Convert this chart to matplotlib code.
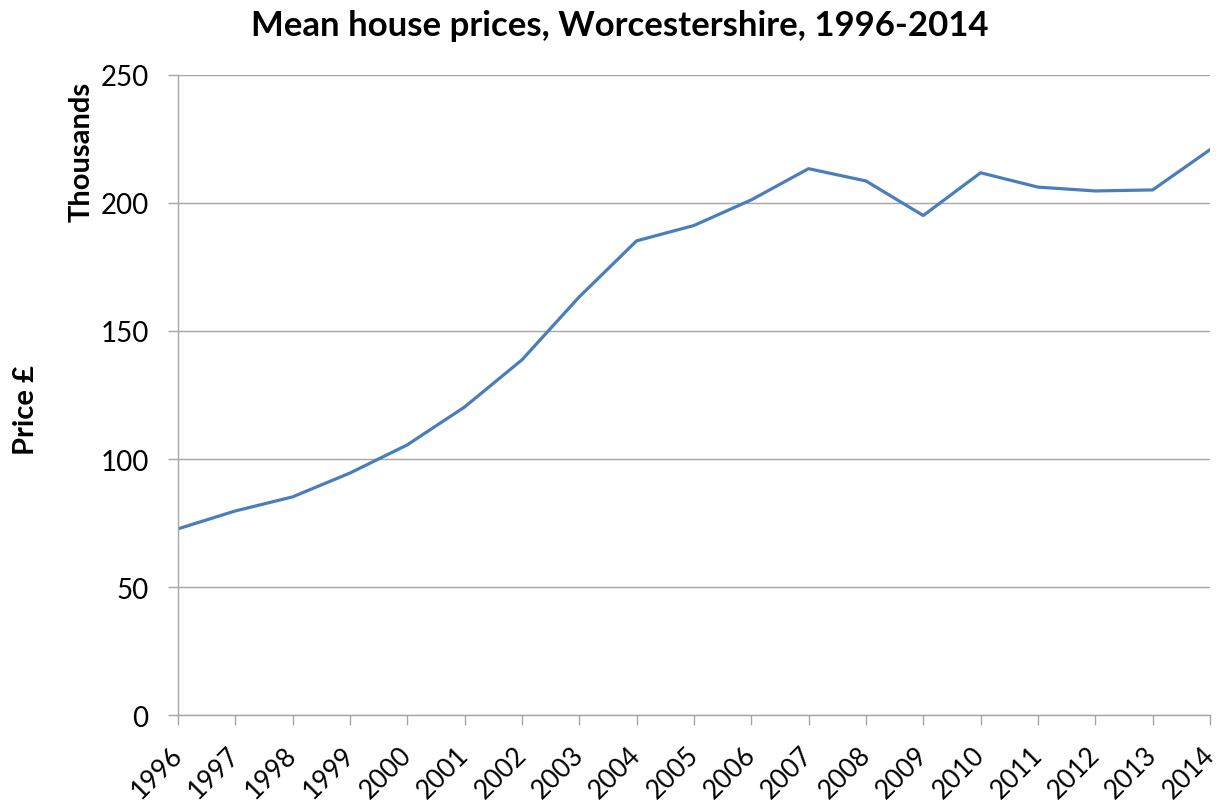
import matplotlib.pyplot as plt
from matplotlib.transforms import ScaledTranslation

years = list(range(1996, 2015))
prices = [72.7, 79.7, 85.2, 94.5, 105.5, 120.3, 138.7, 163.3, 185.2, 191.2,
          201.2, 213.4, 208.6, 195.1, 211.8, 206.2, 204.7, 205.1, 220.8]
yticks = [0, 50, 100, 150, 200, 250]

plt.rcParams['font.family'] = ['Lato', 'DejaVu Sans']

fig = plt.figure(figsize=(12.18, 8.03), dpi=100)
ax = fig.add_axes([0.146, 0.1083, 0.8474, 0.7971])

grid_col = '#A6A6A6'
ax.plot(years, prices, color='#4A7EBB', linewidth=2.3, solid_joinstyle='round')

ax.set_xlim(years[0], years[-1])
ax.set_ylim(0, 250)
ax.set_yticks(yticks)
ax.set_xticks(years)
ax.set_xticklabels([str(y) for y in years], rotation=45, ha='right',
                   rotation_mode='anchor')
ax.yaxis.grid(True, color=grid_col, linewidth=1)
ax.set_axisbelow(True)

for side in ['top', 'right']:
    ax.spines[side].set_visible(False)
for side in ['left', 'bottom']:
    ax.spines[side].set_color(grid_col)
    ax.spines[side].set_linewidth(1)

ax.tick_params(axis='both', colors=grid_col, length=7, width=1,
               labelcolor='black')
ax.tick_params(axis='y', pad=14, labelsize=20)
ax.tick_params(axis='x', pad=12, labelsize=19)

# nudge the rotated year labels a little to the left
shift = ScaledTranslation(-6 / 72, 0, fig.dpi_scale_trans)
for lbl in ax.get_xticklabels():
    lbl.set_transform(lbl.get_transform() + shift)

fig.text(0.509, 0.968, 'Mean house prices, Worcestershire, 1996-2014',
         ha='center', va='center', fontsize=25, fontweight='bold')
fig.text(0.067, 0.811, 'Thousands', rotation=90, ha='center', va='center',
         fontsize=21, fontweight='bold')
fig.text(0.021, 0.489, 'Price £', rotation=90, ha='center', va='center',
         fontsize=21, fontweight='bold')

fig.savefig('out.png', dpi=100)
